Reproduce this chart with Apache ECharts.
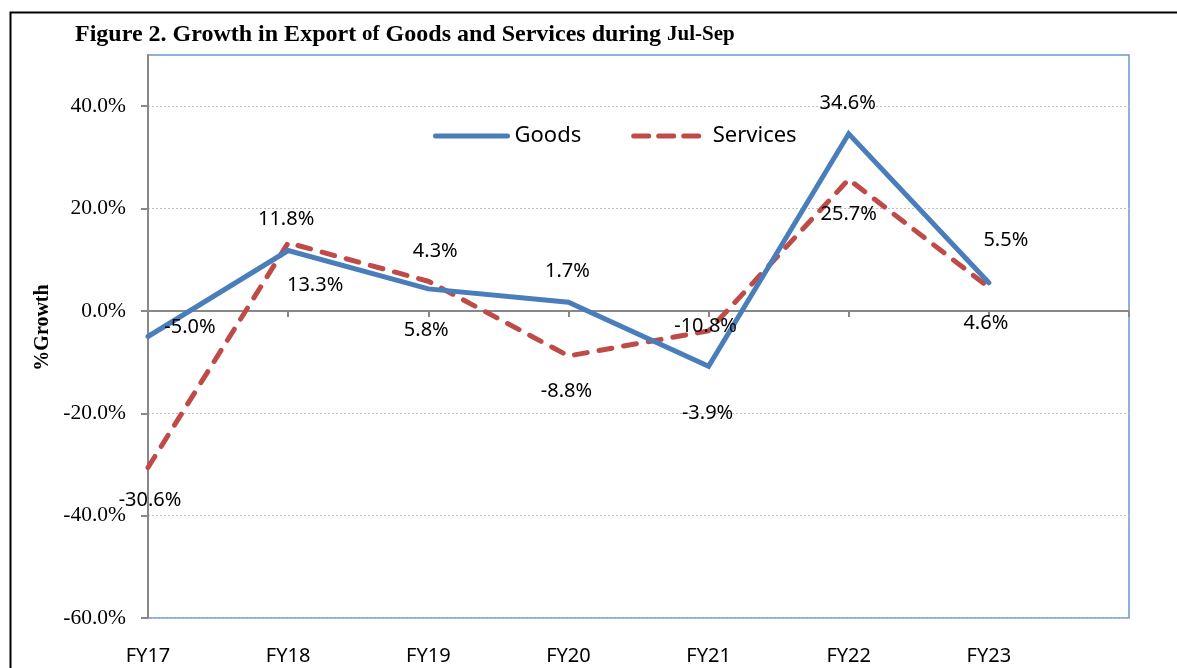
<!DOCTYPE html>
<html>
<head>
<meta charset="utf-8">
<script src="https://cdn.jsdelivr.net/npm/echarts@6/dist/echarts.min.js"></script>
<style>
  html, body { margin: 0; padding: 0; background: #fff; }
  #chart { width: 1177px; height: 668px; }
</style>
</head>
<body>
<div id="chart"></div>
<script>
// categories (last slot is the empty one Excel leaves at the right edge)
const years = ['FY17', 'FY18', 'FY19', 'FY20', 'FY21', 'FY22', 'FY23', '']
const goods = [-5.0, 11.8, 4.3, 1.7, -10.8, 34.6, 5.5]
const services = [-30.6, 13.3, 5.8, -8.8, -3.9, 25.7, 4.6]
const yTicks = [-60, -40, -20, 0, 20, 40]

// label placement relative to each point [dx, dy] (px)
const goodsLabelOffset = [[42, -9], [-2, -31], [7, -38], [-1, -31], [-3, -40], [-1, -31], [17, -42]]
const servicesLabelOffset = [[2, 33], [27, 42], [-2, 49], [-2, 35], [-1, 82], [0, 35], [-3, 36]]

const chart = echarts.init(document.getElementById('chart'))

function withLabels(values, offsets) {
  return values.map((v, i) => ({
    value: v,
    label: {offset: offsets[i]}
  }))
}

const labelStyle = {
  show: true,
  position: 'inside',
  color: '#000',
  fontFamily: 'Noto Sans',
  fontSize: 20,
  formatter: p => p.value.toFixed(1) + '%'
}

const option = {
  animation: false,
  title: {
    left: 70,
    top: 18,
    text: 'Figure 2. Growth in Export {s|of} Goods and Services during {s|Jul-Sep}',
    textStyle: {
      fontFamily: 'Liberation Serif',
      fontWeight: 'bold',
      fontSize: 24,
      color: '#000',
      rich: {
        s: {fontFamily: 'Liberation Serif', fontWeight: 'bold', fontSize: 21, color: '#000'}
      }
    }
  },
  legend: {
    left: 428,
    top: 120,
    itemWidth: 72,
    itemHeight: 14,
    itemGap: 50,
    itemStyle: {opacity: 0},
    textStyle: {fontFamily: 'Noto Sans', fontSize: 22, color: '#000', padding: [0, 0, 0, 2]},
    data: [
      {name: 'Goods', lineStyle: {width: 5, cap: 'round'}},
      {name: 'Services', lineStyle: {width: 5, type: [15, 10], cap: 'round'}}
    ]
  },
  grid: {
    left: 148,
    top: 55,
    right: 48,
    bottom: 50,
    show: true,
    borderColor: '#6E97CC',
    borderWidth: 1.5,
    containLabel: false
  },
  xAxis: [
    {
      type: 'category',
      data: years,
      boundaryGap: false,
      axisLine: {onZero: true, lineStyle: {color: '#888', width: 2}},
      axisTick: {show: true, length: 6, lineStyle: {color: '#888', width: 2}},
      axisLabel: {show: false},
      splitLine: {show: false}
    },
    {
      type: 'category',
      data: years,
      boundaryGap: false,
      position: 'bottom',
      axisLine: {show: false, onZero: false},
      axisTick: {show: false},
      axisLabel: {
        margin: 28,
        color: '#000',
        fontFamily: 'Noto Sans',
        fontSize: 20
      },
      splitLine: {show: false}
    }
  ],
  yAxis: {
    type: 'value',
    min: -60,
    max: 50,
    interval: 20,
    name: '%Growth',
    nameLocation: 'middle',
    nameGap: 89,
    nameRotate: 90,
    nameTextStyle: {
      fontFamily: 'Liberation Serif',
      fontWeight: 'bold',
      fontSize: 20,
      color: '#000',
      padding: [0, 0, 0, 18]
    },
    axisLine: {show: true, lineStyle: {color: '#888', width: 2}},
    axisTick: {show: true, length: 7, customValues: yTicks, lineStyle: {color: '#888', width: 2}},
    axisLabel: {
      customValues: yTicks,
      margin: 22,
      color: '#000',
      fontFamily: 'Liberation Serif',
      fontSize: 21.5,
      formatter: v => v.toFixed(1) + '%'
    },
    splitLine: {
      show: true,
      lineStyle: {color: '#BFBFBF', width: 1, type: [2, 2]}
    }
  },
  series: [
    {
      name: 'Goods',
      type: 'line',
      xAxisIndex: 0,
      symbol: 'circle',
      symbolSize: 0.1,
      itemStyle: {color: '#4A7EBB'},
      lineStyle: {color: '#4A7EBB', width: 5, cap: 'round', join: 'miter'},
      label: labelStyle,
      data: withLabels(goods, goodsLabelOffset),
      z: 3
    },
    {
      name: 'Services',
      type: 'line',
      xAxisIndex: 0,
      symbol: 'circle',
      symbolSize: 0.1,
      itemStyle: {color: '#BE4B48'},
      lineStyle: {color: '#BE4B48', width: 5, type: [13, 12], cap: 'round', join: 'round'},
      label: labelStyle,
      data: withLabels(services, servicesLabelOffset),
      z: 2
    }
  ],
  graphic: [
    {
      type: 'rect',
      left: 8,
      top: 10,
      shape: {width: 1200, height: 700},
      style: {fill: 'none', stroke: '#000', lineWidth: 2},
      silent: true
    }
  ]
}

chart.setOption(option)
</script>
</body>
</html>
